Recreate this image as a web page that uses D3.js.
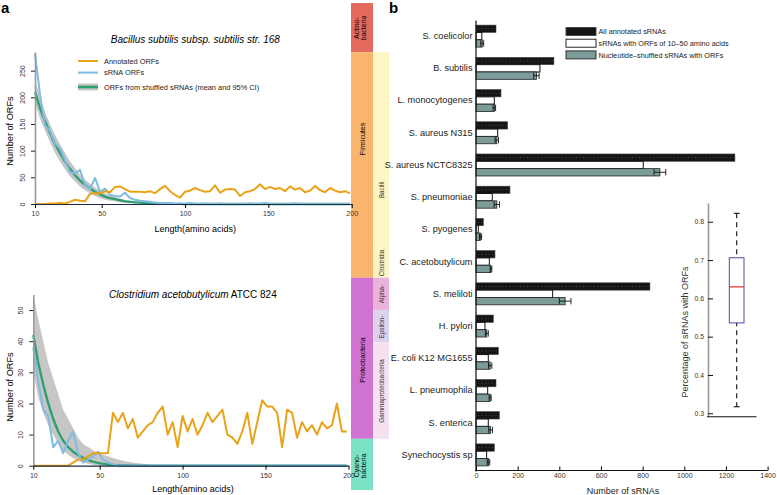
<!DOCTYPE html>
<html>
<head>
<meta charset="utf-8">
<script src="https://cdn.jsdelivr.net/npm/d3@7"></script>
<style>
  body { margin: 0; background: #fff; }
  svg { font-family: "Liberation Sans", Arial, Helvetica, sans-serif; }
</style>
</head>
<body>
<div id="fig"></div>
<script>
/* ---- panel a data: ORF counts by length ---- */
var lengths = [10,13,16,19,22,25,28,31,34,37,40,43,46,49,52,55,58,61,64,67,70,73,76,79,82,85,88,91,94,97,
  100,103,106,109,112,115,118,121,124,127,130,133,136,139,142,145,148,151,154,157,160,163,166,169,172,175,178,181,184,187,190,193,196,199];

var bsubAnnotated = [0,0,0,1,1,2,1,4,8,6, 5,19,20,20,24,22,32,33,28,23, 23,23,22,24,20,28,34,24,17,12,
  23,25,30,26,23,24,35,21,27,28, 27,15,22,24,28,37,28,32,28,30, 24,33,27,30,22,25,34,26,22,30, 25,22,24,20];
var bsubSrna = [282,205,148,136,114,104,82,60,57,64, 36,28,49,23,29,17,15,14,21,11, 8,6,5,4,3,2,1,2,0,1,
  0,2,0,0,1,0,0,1,0,0, 0,0,0,1,0,0,2,0,0,0, 0,0,1,0,0,0,0,0,0,0, 0,0,0,0];
var bsubShuffled = [210,180,155,133,113,96,80,66,54,44, 36,29,23,18,14,11,9,7,5,4, 3,2.5,2,1.5,1,0.8,0.6,0.4,0.3,0.2,
  0.1,0,0,0,0,0,0,0,0,0, 0,0,0,0,0,0,0,0,0,0, 0,0,0,0,0,0,0,0,0,0, 0,0,0,0];
var bsubLow = [190,160,138,116,96,80,65,52,42,33, 26,20,15,11,8,6,5,3.5,2.5,1.8, 1.2,0.8,0.5,0.3,0.1,0,0,0,0,0,
  0,0,0,0,0,0,0,0,0,0, 0,0,0,0,0,0,0,0,0,0, 0,0,0,0,0,0,0,0,0,0, 0,0,0,0];
var bsubHigh = [232,200,172,150,130,112,96,80,67,55, 46,38,31,25,20,16,13,10,8,6, 5,4,3,2.5,2,1.5,1.2,1,0.8,0.6,
  0.4,0.2,0,0,0,0,0,0,0,0, 0,0,0,0,0,0,0,0,0,0, 0,0,0,0,0,0,0,0,0,0, 0,0,0,0];

var caceAnnotated = [0,0,0,0,0,0,0,0,1,2, 2,3,4,4,4,4,17,14,17,12, 15,9,11,13,14,17,19,10,14,6,
  16,11,15,10,13,17,14,16,18,10, 9,7,11,17,7,14,21,19,19,17, 6,18,17,9,14,11,13,10,14,12, 13,20,11,11];
var caceSrna = [38,27,18,16,6,8,4,8,11,4, 1,2,3,4.5,2,1,0.5,0,0,0, 0,0,0,0,0,0,0,0,0,0,
  0,0,0,0,0,0,0,0,0,0, 0,0,0,0,0,0,0,0,0,0, 0,0,0,0,0,0,0,0,0,0, 0,0,0,0];
var caceShuffled = [42,33,26,20,15,11,8,6,4.5,3.4, 2.5,1.8,1.3,0.9,0.6,0.4,0.25,0.15,0.1,0.05, 0,0,0,0,0,0,0,0,0,0,
  0,0,0,0,0,0,0,0,0,0, 0,0,0,0,0,0,0,0,0,0, 0,0,0,0,0,0,0,0,0,0, 0,0,0,0];
var caceLow = [30,22,17,13,10,7,5,3.5,2.5,1.5, 1,0.6,0.3,0.1,0,0,0,0,0,0, 0,0,0,0,0,0,0,0,0,0,
  0,0,0,0,0,0,0,0,0,0, 0,0,0,0,0,0,0,0,0,0, 0,0,0,0,0,0,0,0,0,0, 0,0,0,0];
var caceHigh = [55,47,40,33,28,23,18,15,12,9, 7,6,5,4,3.5,3,2.5,2,1.6,1.3, 1,0.8,0.6,0.4,0.2,0.1,0,0,0,0,
  0,0,0,0,0,0,0,0,0,0, 0,0,0,0,0,0,0,0,0,0, 0,0,0,0,0,0,0,0,0,0, 0,0,0,0];

var lengthTicks = [10, 50, 100, 150, 200];
var bsubTicks = [0, 50, 100, 150, 200, 250];
var caceTicks = [0, 10, 20, 30, 40, 50];
var legendLabels = ["Annotated ORFs", "sRNA ORFs", "ORFs from shuffled sRNAs (mean and 95% CI)"];

/* ---- panel b data ---- */
var species = ["S. coelicolor", "B. subtilis", "L. monocytogenes", "S. aureus N315", "S. aureus NCTC8325",
  "S. pneumoniae", "S. pyogenes", "C. acetobutylicum", "S. meliloti", "H. pylori", "E. coli K12 MG1655",
  "L. pneumophila", "S. enterica", "Synechocystis sp"];
var allAnnotated = [96, 374, 120, 152, 1243, 163, 35, 91, 835, 83, 107, 96, 112, 88];
var withOrfs = [28, 307, 88, 104, 803, 78, 11, 64, 368, 43, 59, 56, 59, 51];
var shuffledMean = [30, 290, 88, 100, 883, 100, 22, 72, 428, 52, 68, 68, 70, 60];
var shuffledErr = [7, 13, 6, 8, 28, 13, 5, 4, 28, 7, 8, 5, 9, 6];
var countTicks = [0, 200, 400, 600, 800, 1000, 1200, 1400];
var barLegend = ["All annotated sRNAs", "sRNAs with ORFs of 10\u201350 amino acids", "Nucleotide\u2013shuffled sRNAs with ORFs"];

/* phyla / classes, by species index (first, last) */
var phyla = [
  {name: ["Actino-", "bacteria"], from: 0, to: 0, color: "#e4695e", at: 28},
  {name: ["Firmicutes"], from: 1, to: 7, color: "#f9b46d", at: 139},
  {name: ["Proteobacteria"], from: 8, to: 12, color: "#cf72d0", at: 360},
  {name: ["Cyano-", "bacteria"], from: 13, to: 13, color: "#7be2c6", at: 466}
];
var classes = [
  {name: "Bacilli", from: 1, to: 6, color: "#fdf6c2", at: 190},
  {name: "Clostridia", from: 7, to: 7, color: "#fdf6c2", at: 263},
  {name: "Alpha-", from: 8, to: 8, color: "#ecb3da", at: 294},
  {name: "Epsilon-", from: 9, to: 9, color: "#dcd2ec", at: 327},
  {name: "Gammaproteobacteria", from: 10, to: 12, color: "#f5e1f0", at: 391}
];

/* inset: share of sRNAs with ORFs (whisker, q1, median, q3, whisker) */
var boxStats = [0.317, 0.536, 0.63, 0.706, 0.822];
var shareTicks = [0.3, 0.4, 0.5, 0.6, 0.7, 0.8];

var svg = d3.select("#fig").append("svg").attr("width", 777).attr("height", 495);

var ORANGE = "#e9a318", BLUE = "#7fbbe2", GREEN = "#2f9f72", BAND = "#c6c6c6";

/* scales for panel b (strip drawn first so panel a labels sit on top) */
var bx = d3.scaleLinear().domain([0, 1400]).range([476, 767.6]);
var by = d3.scaleBand().domain(species).range([20, 471]);
var inner = d3.scaleBand().domain([0, 1, 2]).range([-11, 11]);

var strip = svg.append("g");
function yTop(i) { return i === 0 ? 3 : by(species[i]); }
function yBot(i) { return i === species.length - 1 ? 490 : by(species[i]) + by.step(); }
phyla.forEach(function (p) {
  strip.append("rect").attr("x", 351).attr("width", 22).attr("y", yTop(p.from))
    .attr("height", yBot(p.to) - yTop(p.from)).attr("fill", p.color);
  var t = strip.append("text").attr("transform", "translate(" + (p.name.length > 1 ? 359 : 364.5) + "," + p.at + ") rotate(-90)")
    .style("font-size", "7px").style("text-anchor", "middle");
  p.name.forEach(function (n, k) { t.append("tspan").attr("x", 0).attr("dy", k ? "1.05em" : 0).text(n); });
});
classes.forEach(function (c) {
  strip.append("rect").attr("x", 373).attr("width", 16).attr("y", by(species[c.from]))
    .attr("height", by(species[c.to]) + by.step() - by(species[c.from])).attr("fill", c.color);
  strip.append("text").attr("transform", "translate(383.5," + c.at + ") rotate(-90)")
    .style("font-size", "6.4px").style("text-anchor", "middle").attr("fill", "#333").text(c.name);
});

svg.append("text").attr("x", 1).attr("y", 13).style("font-size", "15px").style("font-weight", "bold").text("a");
svg.append("text").attr("x", 389).attr("y", 13).style("font-size", "15px").style("font-weight", "bold").text("b");

function orfPanel(cfg) {
  var x = d3.scaleLinear().domain([10, 200]).range(cfg.xr);
  var y = d3.scaleLinear().domain([0, cfg.ymax]).range(cfg.yr);
  var g = svg.append("g");
  var rows = lengths.map(function (d, i) {
    return {len: d, ann: cfg.ann[i], srna: cfg.srna[i], mean: cfg.mean[i], lo: cfg.lo[i], hi: cfg.hi[i]};
  });

  g.append("path").datum(rows).attr("fill", BAND)
    .attr("d", d3.area().x(function (d) { return x(d.len); })
      .y0(function (d) { return y(d.lo); }).y1(function (d) { return y(d.hi); }));

  function line(key, color, w) {
    g.append("path").datum(rows).attr("fill", "none").attr("stroke", color).attr("stroke-width", w)
      .attr("stroke-linejoin", "round")
      .attr("d", d3.line().x(function (d) { return x(d.len); }).y(function (d) { return y(d[key]); }));
  }
  line("mean", GREEN, 2.4);
  line("srna", BLUE, 2);
  line("ann", ORANGE, 2);

  var ya = g.append("g").attr("transform", "translate(" + cfg.xr[0] + ",0)")
    .call(d3.axisLeft(y).tickValues(cfg.yticks).tickSize(4).tickSizeOuter(0));
  ya.select(".domain").attr("stroke", "#9a9a9a").attr("stroke-width", 1.6);
  ya.selectAll(".tick line").attr("stroke", "#222");
  ya.selectAll(".tick text").attr("x", 0).attr("y", 0).attr("dy", 0)
    .attr("transform", "translate(-10,0) rotate(-90)")
    .style("text-anchor", "middle").style("font-size", "7px").attr("fill", "#333");

  var xa = g.append("g").attr("transform", "translate(0," + cfg.yr[0] + ")")
    .call(d3.axisBottom(x).tickValues(lengthTicks).tickSize(4).tickSizeOuter(0));
  xa.select(".domain").attr("stroke", "#1c2a44").attr("stroke-width", 1.2);
  xa.selectAll(".tick text").style("font-size", "7px").attr("fill", "#333");

  var cx = (cfg.xr[0] + cfg.xr[1]) / 2 + 2;
  var t = g.append("text").attr("x", cx).attr("y", cfg.titleY).style("font-size", "10px")
    .style("text-anchor", "middle");
  cfg.title.forEach(function (p) {
    t.append("tspan").style("font-style", p[1] ? "italic" : "normal").text(p[0]);
  });

  g.append("text").attr("x", cx).attr("y", cfg.xlabY).style("font-size", "9px")
    .style("text-anchor", "middle").text("Length(amino acids)");
  g.append("text").attr("transform", "translate(13," + cfg.ylabY + ") rotate(-90)")
    .style("font-size", "9.2px").style("text-anchor", "middle").text("Number of ORFs");
  return g;
}

var topPanel = orfPanel({xr: [35, 351.7], yr: [204, 52], ymax: 285, yticks: bsubTicks,
  ann: bsubAnnotated, srna: bsubSrna, mean: bsubShuffled, lo: bsubLow, hi: bsubHigh,
  title: [["Bacillus subtilis subsp. subtilis str. 168", true]], titleY: 43, ylabY: 131, xlabY: 232});

orfPanel({xr: [33.3, 348.5], yr: [465.7, 294.5], ymax: 55, yticks: caceTicks,
  ann: caceAnnotated, srna: caceSrna, mean: caceShuffled, lo: caceLow, hi: caceHigh,
  title: [["Clostridium acetobutylicum", true], [" ATCC 824", false]], titleY: 298, ylabY: 387, xlabY: 491.5});

/* legend, panel a */
var lg = topPanel.append("g").attr("transform", "translate(78,61)");
var legColors = [ORANGE, BLUE, GREEN];
legendLabels.forEach(function (d, i) {
  var yy = [0, 11.6, 26][i];
  if (i === 2) lg.append("line").attr("x1", 0).attr("x2", 20).attr("y1", yy).attr("y2", yy)
    .attr("stroke", BAND).attr("stroke-width", 7);
  lg.append("line").attr("x1", 0).attr("x2", 20).attr("y1", yy).attr("y2", yy)
    .attr("stroke", legColors[i]).attr("stroke-width", i === 2 ? 2.6 : 2);
  lg.append("text").attr("x", 26).attr("y", yy + 2.6).style("font-size", "7.4px").attr("fill", "#222").text(d);
});

/* ---- panel b bars ---- */
var bars = svg.append("g");
species.forEach(function (s, i) {
  var c = by(s) + by.bandwidth() / 2, h = inner.bandwidth();
  bars.append("rect").attr("x", bx(0)).attr("y", c + inner(0)).attr("width", bx(allAnnotated[i]) - bx(0))
    .attr("height", h).attr("fill", "#151515").attr("stroke", "#444").attr("stroke-width", 0.6);
  bars.append("line").attr("x1", bx(0) + 2).attr("x2", bx(allAnnotated[i]) - 1)
    .attr("y1", c + inner(0) + h / 2).attr("y2", c + inner(0) + h / 2)
    .attr("stroke", "#5a5a5a").attr("stroke-width", 0.8).attr("stroke-dasharray", "1,2.5");
  bars.append("rect").attr("x", bx(0)).attr("y", c + inner(1)).attr("width", bx(withOrfs[i]) - bx(0))
    .attr("height", h).attr("fill", "#fff").attr("stroke", "#111").attr("stroke-width", 1);
  bars.append("rect").attr("x", bx(0)).attr("y", c + inner(2)).attr("width", bx(shuffledMean[i]) - bx(0))
    .attr("height", h).attr("fill", "#7b9c99").attr("stroke", "#222").attr("stroke-width", 0.8);
  var ey = c + inner(2) + h / 2, lo = bx(shuffledMean[i] - shuffledErr[i]), hi = bx(shuffledMean[i] + shuffledErr[i]);
  bars.append("line").attr("x1", lo).attr("x2", hi).attr("y1", ey).attr("y2", ey).attr("stroke", "#111").attr("stroke-width", 0.9);
  [lo, hi].forEach(function (xx) {
    bars.append("line").attr("x1", xx).attr("x2", xx).attr("y1", ey - 3.2).attr("y2", ey + 3.2)
      .attr("stroke", "#111").attr("stroke-width", 0.9);
  });
});

var bya = svg.append("g").attr("transform", "translate(475.5,0)")
  .call(d3.axisLeft(by).tickSize(0).tickPadding(3));
bya.select(".domain").attr("stroke", "#111").attr("stroke-width", 1.2);
bya.selectAll(".tick text").style("font-size", "9.2px").attr("fill", "#222");

var bxa = svg.append("g").attr("transform", "translate(0,470.5)")
  .call(d3.axisBottom(bx).tickValues(countTicks).tickSize(-4).tickSizeOuter(0).tickPadding(3)
    .tickFormat(d3.format("d")));
bxa.select(".domain").attr("stroke", "#111").attr("stroke-width", 1.2).attr("d", "M475,0H767.6");
bxa.selectAll(".tick text").style("font-size", "7px").attr("fill", "#333");
svg.append("text").attr("x", 623).attr("y", 494).style("font-size", "9px").style("text-anchor", "middle")
  .attr("fill", "#222").text("Number of sRNAs");

/* legend, panel b */
var blg = svg.append("g").attr("transform", "translate(566,27.5)");
var swatch = [{fill: "#151515", stroke: "#444"}, {fill: "#fff", stroke: "#111"}, {fill: "#7b9c99", stroke: "#222"}];
barLegend.forEach(function (d, i) {
  blg.append("rect").attr("x", 0).attr("y", i * 11.7).attr("width", 30).attr("height", 8)
    .attr("fill", swatch[i].fill).attr("stroke", swatch[i].stroke).attr("stroke-width", 0.9);
  blg.append("text").attr("x", 32.5).attr("y", i * 11.7 + 6.8).style("font-size", "7.3px").attr("fill", "#222").text(d);
});

/* ---- inset boxplot ---- */
var iy = d3.scaleLinear().domain([0.291, 0.849]).range([416.7, 203]);
var inset = svg.append("g");
inset.append("rect").attr("x", 680).attr("y", 198).attr("width", 90).attr("height", 225).attr("fill", "#fff");
var iya = inset.append("g").attr("transform", "translate(708,0)")
  .call(d3.axisRight(iy).tickValues(shareTicks).tickSize(5).tickSizeOuter(0).tickFormat(d3.format(".1f")));
iya.select(".domain").attr("stroke", "#9a9a9a").attr("stroke-width", 1.6);
iya.selectAll(".tick line").attr("stroke", "#111");
iya.selectAll(".tick text").attr("x", -4).style("text-anchor", "end").style("font-size", "6.8px").attr("fill", "#333");
inset.append("line").attr("x1", 707).attr("x2", 756.5).attr("y1", 416.7).attr("y2", 416.7)
  .attr("stroke", "#111").attr("stroke-width", 1.1);
inset.append("text").attr("transform", "translate(688,332) rotate(-90)").style("font-size", "9px")
  .style("text-anchor", "middle").attr("fill", "#333").text("Percentage of sRNAs with ORFs");
var bcx = 736.7;
inset.append("line").attr("x1", bcx).attr("x2", bcx).attr("y1", iy(boxStats[4])).attr("y2", iy(boxStats[0]))
  .attr("stroke", "#111").attr("stroke-width", 1.1).attr("stroke-dasharray", "5,4");
[boxStats[0], boxStats[4]].forEach(function (v) {
  inset.append("line").attr("x1", bcx - 3).attr("x2", bcx + 3).attr("y1", iy(v)).attr("y2", iy(v))
    .attr("stroke", "#111").attr("stroke-width", 1.1);
});
inset.append("rect").attr("x", 729.3).attr("width", 14.7).attr("y", iy(boxStats[3]))
  .attr("height", iy(boxStats[1]) - iy(boxStats[3])).attr("fill", "#fff").attr("stroke", "#4a4aa8").attr("stroke-width", 1);
inset.append("line").attr("x1", 729.3).attr("x2", 744).attr("y1", iy(boxStats[2])).attr("y2", iy(boxStats[2]))
  .attr("stroke", "#e0302a").attr("stroke-width", 1.2);
</script>
</body>
</html>
